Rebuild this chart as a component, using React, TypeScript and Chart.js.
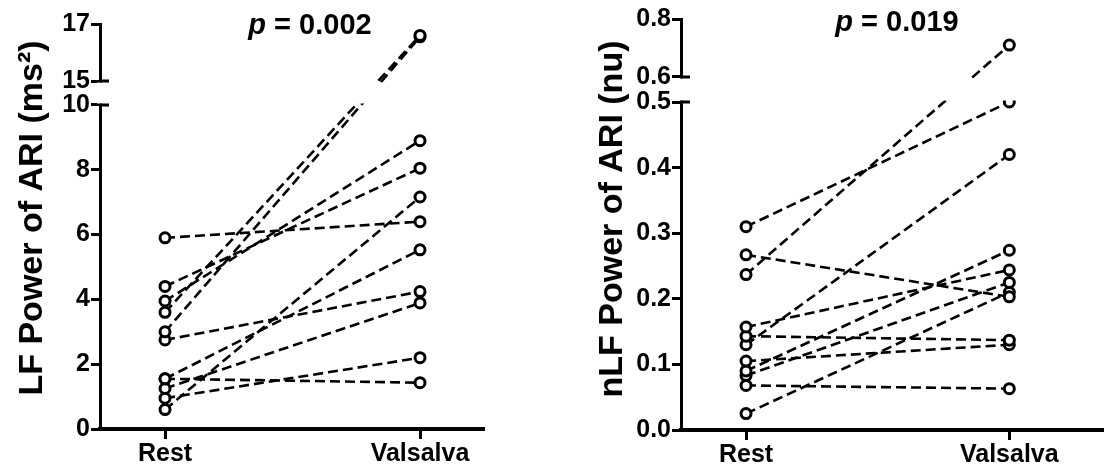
import React, { useEffect, useRef } from 'react';
import { Chart, LinearScale, registerables } from 'chart.js';

Chart.register(...registerables);

// ---------- data ----------
const categories = ['Rest', 'Valsalva'];

const lfRest = [5.9, 4.4, 3.95, 3.6, 3.0, 2.75, 1.55, 1.55, 1.25, 0.95, 0.6];
const lfValsalva = [6.4, 8.05, 8.9, 16.6, 16.55, 4.24, 1.43, 5.53, 3.89, 2.2, 7.16];
const lfTicks = [0, 2, 4, 6, 8, 10, 15, 17];

const nlfRest = [0.31, 0.267, 0.237, 0.157, 0.143, 0.13, 0.105, 0.09, 0.083, 0.068, 0.025];
const nlfValsalva = [0.5, 0.203, 0.71, 0.244, 0.137, 0.42, 0.13, 0.274, 0.225, 0.063, 0.21];
const nlfTicks = [0, 0.1, 0.2, 0.3, 0.4, 0.5, 0.6, 0.8];

const yTitles = ['LF Power of ARI (ms²)', 'nLF Power of ARI (nu)'];
const pValues = ['0.002', '0.019'];

// ---------- broken linear scale ----------
class BrokenLinearScale extends LinearScale {
  static id = 'brokenLinear';
  static defaults = {};
  _brk() {
    const o: any = this.options;
    return { low: o.breakLow, high: o.breakHigh, lf: o.lowerFrac, gf: o.gapFrac };
  }
  _toDec(v: number) {
    const { low, high, lf, gf } = this._brk();
    const min = (this as any).min, max = (this as any).max;
    if (v <= low) return (lf * (v - min)) / (low - min);
    if (v >= high) return lf + gf + ((1 - lf - gf) * (v - high)) / (max - high);
    return lf + (gf * (v - low)) / (high - low);
  }
  _fromDec(d: number) {
    const { low, high, lf, gf } = this._brk();
    const min = (this as any).min, max = (this as any).max;
    if (d <= lf) return min + (d / lf) * (low - min);
    if (d >= lf + gf) return high + ((d - lf - gf) / (1 - lf - gf)) * (max - high);
    return low + ((d - lf) / gf) * (high - low);
  }
  getPixelForValue(value: any) {
    if (value === null || value === undefined || isNaN(value)) return NaN;
    return (this as any).getPixelForDecimal(this._toDec(value));
  }
  getValueForPixel(pixel: number) {
    return this._fromDec((this as any).getDecimalForPixel(pixel));
  }
}
Chart.register(BrokenLinearScale as any);

const FONT = '"Liberation Sans", Arial, sans-serif';

type PanelCfg = {
  left: number;
  rest: number[];
  valsalva: number[];
  ticks: number[];
  min: number;
  max: number;
  xMin: number;
  xMax: number;
  breakLow: number;
  breakHigh: number;
  lowerFrac: number;
  gapFrac: number;
  decimals: number;
  title: string;
  p: string;
  axisX: number;
  axisY: number;
  padTop: number;
  padRight: number;
  titleX: number;
  titleY: number;
  pCenter: number;
  pBaseline: number;
};

const W = 555;
const H = 472;

function Panel({ cfg }: { cfg: PanelCfg }) {
  const ref = useRef<HTMLCanvasElement>(null);
  useEffect(() => {
    const canvas = ref.current!;
    const datasets = cfg.rest.map((r, i) => ({
      data: [
        { x: 0, y: r },
        { x: 1, y: cfg.valsalva[i] },
      ],
      borderColor: '#000',
      borderWidth: 2.6,
      borderDash: [10, 5],
      pointRadius: 5,
      pointBorderWidth: 3,
      pointBorderColor: '#000',
      pointBackgroundColor: '#fff',
      fill: false,
      tension: 0,
    }));

    const overlay = {
      id: 'overlay',
      afterDatasetsDraw(chart: any) {
        const { ctx, chartArea } = chart;
        const y = chart.scales.y;
        const pHigh = y.getPixelForValue(cfg.breakHigh);
        const pLow = y.getPixelForValue(cfg.breakLow);
        ctx.save();
        // axis break gap
        ctx.fillStyle = '#fff';
        ctx.fillRect(chartArea.left - 3, pHigh + 1.5, chartArea.right - chartArea.left + 10, pLow - pHigh - 3);
        ctx.strokeStyle = '#000';
        ctx.lineWidth = 3;
        ctx.beginPath();
        [pHigh, pLow].forEach((p: number) => {
          ctx.moveTo(chartArea.left, p);
          ctx.lineTo(chartArea.left + 9, p);
        });
        ctx.stroke();
        // p value title
        const cx = cfg.pCenter;
        ctx.fillStyle = '#000';
        ctx.textBaseline = 'alphabetic';
        ctx.textAlign = 'left';
        const fItalic = `italic bold 29px ${FONT}`;
        const fBold = `bold 29px ${FONT}`;
        ctx.font = fItalic;
        const wp = ctx.measureText('p').width;
        ctx.font = fBold;
        const rest = ' = ' + cfg.p;
        const wr = ctx.measureText(rest).width;
        const x0 = cx - (wp + wr) / 2;
        ctx.font = fItalic;
        ctx.fillText('p', x0, cfg.pBaseline);
        ctx.font = fBold;
        ctx.fillText(rest, x0 + wp, cfg.pBaseline);
        // y axis title
        ctx.translate(cfg.titleX, cfg.titleY);
        ctx.rotate(-Math.PI / 2);
        ctx.font = `bold 34px ${FONT}`;
        ctx.textAlign = 'center';
        ctx.fillText(cfg.title, 0, 0);
        ctx.restore();
      },
    };

    const chart = new Chart(canvas, {
      type: 'line',
      data: { datasets } as any,
      plugins: [overlay],
      options: {
        animation: false,
        responsive: false,
        devicePixelRatio: 1,
        events: [],
        layout: { padding: { left: 0, right: cfg.padRight, top: cfg.padTop, bottom: 0 } },
        plugins: { legend: { display: false }, tooltip: { enabled: false } },
        scales: {
          x: {
            type: 'linear',
            min: cfg.xMin,
            max: cfg.xMax,
            afterBuildTicks: (s: any) => {
              s.ticks = categories.map((_, i) => ({ value: i }));
            },
            afterFit: (s: any) => {
              s.height = H - cfg.axisY;
            },
            grid: { display: true, drawOnChartArea: false, drawTicks: true, tickLength: 10, lineWidth: 3, color: '#000' },
            border: { display: true, width: 4, color: '#000' },
            ticks: {
              autoSkip: false,
              maxRotation: 0,
              padding: 0,
              color: '#000',
              font: { family: FONT, size: 25, weight: 'bold' },
              callback: (v: any) => categories[Math.round(v)] ?? '',
            },
          },
          y: {
            type: 'brokenLinear' as any,
            min: cfg.min,
            max: cfg.max,
            breakLow: cfg.breakLow,
            breakHigh: cfg.breakHigh,
            lowerFrac: cfg.lowerFrac,
            gapFrac: cfg.gapFrac,
            afterBuildTicks: (s: any) => {
              s.ticks = cfg.ticks.map((v) => ({ value: v }));
            },
            afterFit: (s: any) => {
              s.width = cfg.axisX;
            },
            grid: { display: true, drawOnChartArea: false, drawTicks: true, tickLength: 9, lineWidth: 3, color: '#000' },
            border: { display: true, width: 3, color: '#000' },
            ticks: {
              autoSkip: false,
              padding: 1,
              color: '#000',
              font: { family: FONT, size: 25, weight: 'bold' },
              callback: (v: any) => Number(v).toFixed(cfg.decimals),
            },
          } as any,
        },
      } as any,
    });
    return () => chart.destroy();
  }, [cfg]);
  return (
    <div style={{ position: 'absolute', left: cfg.left, top: 0, width: W, height: H }}>
      <canvas ref={ref} width={W} height={H} style={{ width: W, height: H, display: 'block' }} />
    </div>
  );
}

const leftCfg: PanelCfg = {
  left: 0,
  rest: lfRest,
  valsalva: lfValsalva,
  ticks: lfTicks,
  min: 0,
  max: 17,
  xMin: -0.255,
  xMax: 1.247,
  breakLow: 10,
  breakHigh: 15,
  lowerFrac: 0.8,
  gapFrac: 0.059,
  decimals: 0,
  title: yTitles[0],
  p: pValues[0],
  axisX: 100,
  axisY: 429,
  padTop: 24,
  padRight: W - 483,
  titleX: 42,
  titleY: 218,
  pCenter: 310,
  pBaseline: 34,
};

const rightCfg: PanelCfg = {
  left: 555,
  rest: nlfRest,
  valsalva: nlfValsalva,
  ticks: nlfTicks,
  min: 0,
  max: 0.8,
  xMin: -0.247,
  xMax: 1.352,
  breakLow: 0.5,
  breakHigh: 0.6,
  lowerFrac: 0.798,
  gapFrac: 0.061,
  decimals: 1,
  title: yTitles[1],
  p: pValues[1],
  axisX: 126,
  axisY: 430,
  padTop: 19,
  padRight: 2,
  titleX: 67,
  titleY: 219,
  pCenter: 897 - 555,
  pBaseline: 31,
};

export default function App() {
  return (
    <div style={{ position: 'fixed', left: 0, top: 0, width: 1110, height: 472, background: '#fff' }}>
      <Panel cfg={leftCfg} />
      <Panel cfg={rightCfg} />
    </div>
  );
}
